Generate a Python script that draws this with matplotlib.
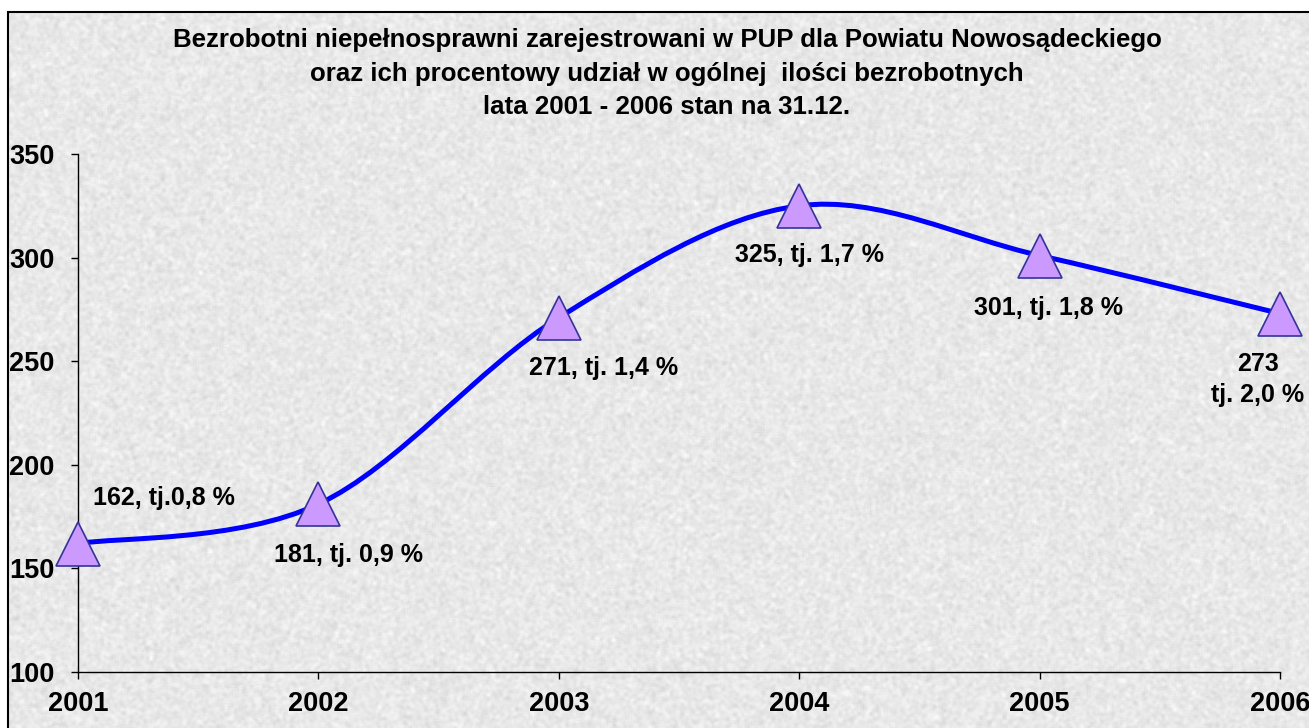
import numpy as np
import matplotlib.pyplot as plt
from matplotlib.path import Path
from matplotlib.patches import PathPatch, Rectangle

plt.rcParams['font.family'] = ['Liberation Sans', 'DejaVu Sans']
plt.rcParams['font.weight'] = 'bold'

# data
years = [2001, 2002, 2003, 2004, 2005, 2006]
values = [162, 181, 271, 325, 301, 273]
labels = ['162, tj.0,8 %', '181, tj. 0,9 %', '271, tj. 1,4 %',
          '325, tj. 1,7 %', '301, tj. 1,8 %', '273\ntj. 2,0 %']
# label offsets in pixels from each point
label_offsets = [(15, 46), (30, -51), (45, -50), (10, -49), (9, -52), (-22, -66)]
label_ha = ['left', 'center', 'center', 'center', 'center', 'center']

title = ('Bezrobotni niepełnosprawni zarejestrowani w PUP dla Powiatu Nowosądeckiego\n'
         'oraz ich procentowy udział w ogólnej  ilości bezrobotnych\n'
         'lata 2001 - 2006 stan na 31.12.')

fig = plt.figure(figsize=(13.09, 7.28), dpi=100)
fig.patch.set_facecolor('white')

# granite-like background texture
bg = fig.add_axes([8 / 1309, 0, 1 - 8 / 1309, 1 - 12 / 728], zorder=-5)
rng = np.random.default_rng(3)
noise = rng.normal(0, 1, (520, 930))
k = np.ones(3) / 3
noise = np.apply_along_axis(lambda r: np.convolve(r, k, mode='same'), 1, noise)
noise = np.apply_along_axis(lambda c: np.convolve(c, k, mode='same'), 0, noise)
tex = np.clip(0.91 + 0.06 * noise, 0.72, 1.0)
bg.imshow(tex, cmap='gray', vmin=0, vmax=1, aspect='auto', interpolation='bilinear')
bg.axis('off')
fig.patches.append(Rectangle((8 / 1309, -0.05), 1.2, (1 - 12 / 728) + 0.05,
                             transform=fig.transFigure, fill=False,
                             edgecolor='black', linewidth=1.5, zorder=10))

ax = fig.add_axes([78 / 1309, 1 - 672 / 728, (1280 - 78) / 1309, (672 - 154) / 728])
ax.patch.set_alpha(0)
ax.set_xlim(years[0], years[-1])
ax.set_ylim(100, 350)
ax.set_xticks(years)
ax.set_yticks([100, 150, 200, 250, 300, 350])
for s in ['top', 'right']:
    ax.spines[s].set_visible(False)
for s in ['left', 'bottom']:
    ax.spines[s].set_linewidth(1.0)
ax.tick_params(direction='out', length=5, width=1, labelsize=19.5, pad=12)
ax.tick_params(axis='x', pad=9)

# smoothed line (Bezier through the points, like Excel)
x = np.array(years, dtype=float)
y = np.array(values, dtype=float)
verts = [(x[0], y[0])]
codes = [Path.MOVETO]
n = len(x)
for i in range(n - 1):
    p0 = (x[i - 1], y[i - 1]) if i > 0 else (x[i], y[i])
    p3 = (x[i + 2], y[i + 2]) if i + 2 < n else (x[i + 1], y[i + 1])
    c1 = (x[i] + (x[i + 1] - p0[0]) / 6, y[i] + (y[i + 1] - p0[1]) / 6)
    c2 = (x[i + 1] - (p3[0] - x[i]) / 6, y[i + 1] - (p3[1] - y[i]) / 6)
    verts += [c1, c2, (x[i + 1], y[i + 1])]
    codes += [Path.CURVE4] * 3
ax.add_patch(PathPatch(Path(verts, codes), fill=False, edgecolor='#0000FF',
                       linewidth=3.6, zorder=3, clip_on=False))

ax.plot(years, values, linestyle='none', marker='^', markersize=31,
        markerfacecolor='#CC99FF', markeredgecolor='#333399',
        markeredgewidth=1.2, zorder=4, clip_on=False)

for xv, yv, lab, off, ha in zip(years, values, labels, label_offsets, label_ha):
    ax.annotate(lab, (xv, yv), xytext=off, textcoords='offset pixels',
                ha=ha, va='center', fontsize=18, fontweight='bold',
                multialignment='center', linespacing=1.38, zorder=5)

fig.text(667 / 1309, 1 - 74 / 728, title, ha='center', va='center',
         fontsize=18.6, fontweight='bold', linespacing=1.5)

fig.savefig('out.png', dpi=100)
